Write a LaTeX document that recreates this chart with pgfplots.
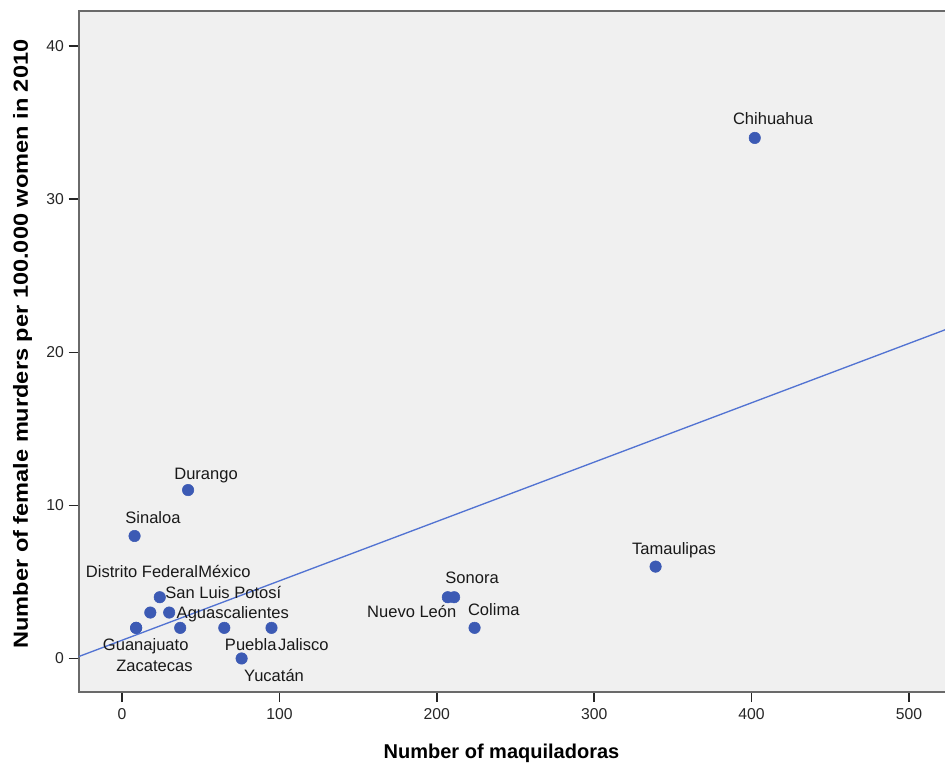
\documentclass[border=0pt]{standalone}
\usepackage{pgfplots}
\pgfplotsset{compat=1.18}
\usepackage{fontspec}
\setmainfont{Liberation Sans}
\definecolor{ptc}{HTML}{3C5AB4}
\definecolor{lnc}{HTML}{5273D2}
\definecolor{bgc}{HTML}{F0F0F0}
\definecolor{axc}{HTML}{6A6A6A}
\tikzset{lbl/.style={font=\fontsize{12.4}{14}\selectfont, anchor=base, text=black!90, inner sep=0pt}}
\begin{document}
\begin{tikzpicture}
\begin{axis}[
  scale only axis, width=650.6pt, height=510.75pt,
  xmin=-27.6, xmax=523.5, ymin=-2.19, ymax=42.29,
  axis background/.style={fill=bgc},
  axis line style={draw=axc, line width=1.5pt},
  xtick={0,100,...,500}, ytick={0,10,...,40},
  tick align=outside, tick pos=left,
  major tick length=7.5pt,
  tick style={black!85, line width=1.1pt},
  /pgf/number format/assume math mode=true,
  ticklabel style={font=\fontsize{11.8}{13}\selectfont, text=black!85},
  xticklabel style={yshift=-1pt},
  xlabel={Number of maquiladoras},
  ylabel={Number of female murders per 100.000 women in 2010},
  every axis x label/.style={at={(axis description cs:0.4876,0)}, anchor=base, yshift=-49.5pt, font=\bfseries\fontsize{15}{18}\selectfont},
  every axis y label/.style={at={(axis description cs:0,0.511)}, anchor=base, rotate=90, yshift=37.9pt, xscale=1.155, font=\bfseries\fontsize{15.3}{18}\selectfont},
  clip=true,
]
\addplot[lnc, line width=1pt, forget plot] coordinates {(-27.6,0.12) (523.5,21.49)};
\addplot[only marks, mark=*, mark size=4.3pt, mark options={draw=ptc, fill=ptc}] coordinates {
(402,34) (42,11) (8,8) (339,6) (207,4) (211,4) (224,2)
(24,4) (18,3) (30,3) (9,2) (9,2) (37,2) (65,2) (95,2) (76,0)
};
\node[lbl] at (axis cs:413.6,34.85) {Chihuahua};
\node[lbl] at (axis cs:53.4,11.72) {Durango};
\node[lbl] at (axis cs:19.7,8.79) {Sinaloa};
\node[lbl] at (axis cs:350.7,6.76) {Tamaulipas};
\node[lbl] at (axis cs:222.4,4.87) {Sonora};
\node[lbl] at (axis cs:184.1,2.66) {Nuevo León};
\node[lbl] at (axis cs:236.2,2.78) {Colima};
\node[lbl] at (axis cs:12.7,5.32) {Distrito Federal};
\node[lbl] at (axis cs:65.1,5.32) {México};
\node[lbl] at (axis cs:64.4,3.91) {San Luis Potosí};
\node[lbl] at (axis cs:70.4,2.60) {Aguascalientes};
\node[lbl] at (axis cs:15.1,0.54) {Guanajuato};
\node[lbl] at (axis cs:20.6,-0.86) {Zacatecas};
\node[lbl] at (axis cs:81.8,0.54) {Puebla};
\node[lbl] at (axis cs:115.2,0.54) {Jalisco};
\node[lbl] at (axis cs:96.6,-1.52) {Yucatán};
\end{axis}
\pgfresetboundingbox
\path[use as bounding box] ([shift={(-58.9pt,-54.75pt)}]current axis.south west) rectangle ([shift={(-0.75pt,8.25pt)}]current axis.north east);
\end{tikzpicture}
\end{document}
